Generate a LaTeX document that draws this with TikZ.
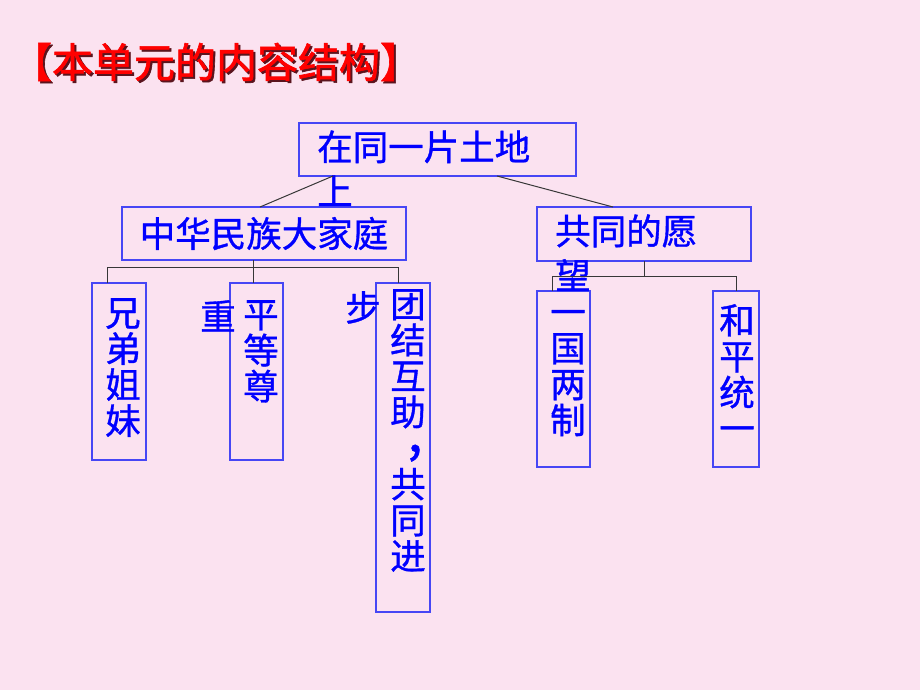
\documentclass[tikz,border=0pt]{standalone}
\usepackage{fontspec}
\setmainfont[FakeBold=1]{Noto Sans CJK SC}
\newfontfamily\titlefont[FakeBold=1.5]{Noto Sans CJK SC}
\usepackage{tikz}
\usetikzlibrary{positioning}

\definecolor{bgpink}{RGB}{251,226,240}
\definecolor{boxblue}{RGB}{70,70,245}
\definecolor{txtblue}{RGB}{0,0,255}
\definecolor{linegray}{RGB}{55,55,55}
\definecolor{titlered}{RGB}{255,0,0}
\definecolor{titleshade}{RGB}{90,20,30}

\newcommand{\shadowed}[1]{\makebox[0pt][l]{\kern2pt\raisebox{-2pt}{\color{titleshade}#1}}#1}

\begin{document}
\begin{tikzpicture}[x=1pt, y=1pt, thin, box/.style={rectangle,draw=boxblue,line width=1.2pt,inner sep=0pt,outer sep=0pt}, htext/.style={text=txtblue,inner sep=0pt,align=left,font=\fontsize{35.5}{44.5}\selectfont}, vtext/.style={text=txtblue,inner sep=0pt,align=center,font=\fontsize{35.5}{36}\selectfont}, conn/.style={draw=linegray,line width=1pt}, heading/.style={inner sep=0pt,font=\titlefont\fontsize{41}{41}\selectfont}]
	  \useasboundingbox[fill=bgpink] (0,0) rectangle (920,-690);

	  \node[heading,text=titlered] (title) at (216,-63) {\shadowed{【本单元的内容结构】}};

	  \node[box,minimum width=277pt,minimum height=53pt] (top) at (437.5,-149.5) {};
	  \node[box,minimum width=284pt,minimum height=53pt,text=txtblue,font=\fontsize{35.5}{43.5}\selectfont] (nation) [below=31pt of top, xshift=-173.5pt] {中华民族大家庭};
	  \node[box,minimum width=214pt,minimum height=54pt] (wish) [below=31pt of top, xshift=206.5pt] {};

	  \node[box,minimum width=54pt,minimum height=177pt] (xiongdi) [below=23pt of nation, xshift=-145pt] {};
	  \node[box,minimum width=53pt,minimum height=177pt] (pingdeng) [below=23pt of nation, xshift=-7.5pt] {};
	  \node[box,minimum width=54pt,minimum height=329pt] (tuanjie) [below=23pt of nation, xshift=139pt] {};
	  \node[box,minimum width=53pt,minimum height=176pt] (yiguo) [below=30pt of wish, xshift=-80.5pt] {};
	  \node[box,minimum width=46pt,minimum height=176pt] (heping) [below=30pt of wish, xshift=92pt] {};

%	  texts that run out of their boxes
	  \node[htext,anchor=north west] (toptxt) at ([shift={(18pt,-7.25pt)}]top.north west) {在同一片土地\\上};
	  \node[htext,anchor=north west] (wishtxt) at ([shift={(18pt,-7.25pt)}]wish.north west) {共同的愿\\望};

	  \node[vtext] (xiongditxt) [below=15pt of xiongdi.north, xshift=4pt] {兄\\弟\\姐\\妹};
	  \node[vtext] (pingdengtxt) [below=17pt of pingdeng.north, xshift=4.5pt] {平\\等\\尊};
	  \node[vtext] (zhong) [below=17pt of pingdeng.north, xshift=-38.5pt] {重};
	  \node[vtext] (tuanjietxt) [below=6pt of tuanjie.north, xshift=5pt] {团\\结\\互\\助\\\hspace*{14pt}\raisebox{10pt}{\scalebox{1.5}{,}}\\共\\同\\进};
	  \node[vtext] (bu) [below=8pt of tuanjie.north, xshift=-40pt] {步};
	  \node[vtext] (yiguotxt) [below=6pt of yiguo.north, xshift=4.5pt] {\vphantom{国}一\\国\\两\\制};
	  \node[vtext] (hepingtxt) [below=13pt of heping.north, xshift=1pt] {和\\平\\统\\一};

	  \draw[conn] ([xshift=-104.5pt]top.south) -- ([xshift=-4pt]nation.north);
	  \draw[conn] ([xshift=59.5pt]top.south) -- ([xshift=-31pt]wish.north);

	  \draw[conn] ([xshift=-11pt]nation.south) -- ([xshift=-3.5pt]pingdeng.north);
	  \draw[conn] ([xshift=-12pt]xiongdi.north) |- ([xshift=-5pt,yshift=16pt]tuanjie.north) -- ([xshift=-5pt]tuanjie.north);

	  \draw[conn] (wish.south) -- ++(0,-15pt);
	  \draw[conn] ([xshift=-11.5pt]yiguo.north) |- ([yshift=15pt]heping.north) -- (heping.north);
\end{tikzpicture}
\end{document}
